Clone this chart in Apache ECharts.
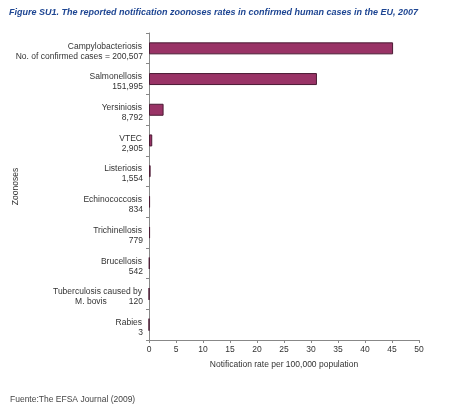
<!DOCTYPE html>
<html><head><meta charset="utf-8">
<script src="https://cdn.jsdelivr.net/npm/echarts@6/dist/echarts.min.js"></script>
<style>html,body{margin:0;padding:0;background:#fff}#c{width:450px;height:408px}</style>
</head><body><div id="c"></div>
<script>
var categories = ["Campylobacteriosis","Salmonellosis","Yersiniosis","VTEC","Listeriosis","Echinococcosis","Trichinellosis","Brucellosis","Tuberculosis caused by","Rabies"];
var caseLabels = ["No. of confirmed cases = 200,507","151,995","8,792","2,905","1,554","834","779","542","120","3"];
var rates = [45.2, 31.1, 2.7, 0.6, 0.3, 0.2, 0.2, 0.1, 0.02, 0.0];
var xTicks = [0,5,10,15,20,25,30,35,40,45,50];

var FF = 'Liberation Sans, Arial';
var chart = echarts.init(document.getElementById('c'), null, {renderer:'canvas'});
chart.setOption({
  animation:false,
  backgroundColor:'#fff',
  title:[{
    text:'Figure SU1. The reported notification zoonoses rates in confirmed human cases in the EU, 2007',
    left:4, top:3,
    textStyle:{fontFamily:FF, fontSize:9, fontWeight:'bold', fontStyle:'italic', color:'#1d4592'}
  },{
    text:'Fuente:The EFSA Journal (2009)',
    left:5, top:390,
    textStyle:{fontFamily:FF, fontSize:8.5, fontWeight:'normal', color:'#444'}
  }],
  grid:{left:149, right:31, top:33, bottom:68, containLabel:false, outerBoundsMode:'none'},
  xAxis:{
    type:'value', min:0, max:50, interval:5,
    name:'Notification rate per 100,000 population',
    nameLocation:'middle', nameGap:20,
    nameTextStyle:{fontFamily:FF, fontSize:8.5, color:'#333'},
    axisLine:{show:true, lineStyle:{color:'#888', width:1}},
    axisTick:{show:true, length:3, lineStyle:{color:'#888'}},
    axisLabel:{fontFamily:FF, fontSize:8.5, color:'#333', margin:5,
      formatter:function(v){return xTicks.indexOf(v)>=0? String(v):'';}},
    splitLine:{show:false}
  },
  yAxis:{
    type:'category', inverse:true, data:categories,
    name:'Zoonoses', nameLocation:'middle', nameGap:129, nameRotate:90, nameMoveOverlap:false,
    nameTextStyle:{fontFamily:FF, fontSize:8.5, color:'#333'},
    axisLine:{show:true, lineStyle:{color:'#888', width:1}},
    axisTick:{show:true, length:3, lineStyle:{color:'#888'}},
    axisLabel:{
      margin:6, align:'right',
      formatter:function(v, i){
        if (v === 'Tuberculosis caused by') {
          return '{n|' + v + '}\n{m|M. bovis}{c|' + caseLabels[i] + '}';
        }
        return '{n|' + v + '}\n{c|' + caseLabels[i] + '}';
      },
      rich:{
        n:{fontFamily:FF, fontSize:8.5, color:'#333', lineHeight:10, align:'right', padding:[0,1,0,0]},
        c:{fontFamily:FF, fontSize:8.5, color:'#333', lineHeight:10, align:'right'},
        m:{fontFamily:FF, fontSize:8.5, color:'#333', lineHeight:10, width:70, align:'center'}
      },
      padding:[6,0,0,0]
    }
  },
  series:[{
    type:'bar', data:rates, barWidth:12,
    itemStyle:{color:'#993366', borderColor:'#4a1a33', borderWidth:1}
  }]
});
</script></body></html>
